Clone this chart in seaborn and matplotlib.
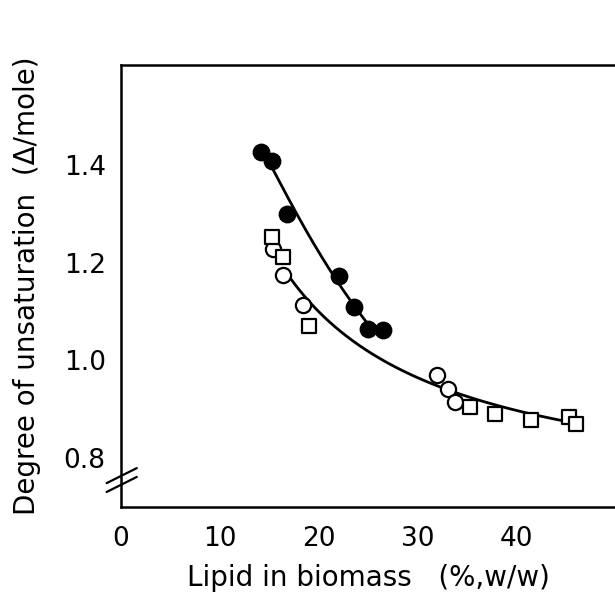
import numpy as np
import pandas as pd
import matplotlib
matplotlib.use("Agg")
import matplotlib.pyplot as plt
import seaborn as sns

# ---- data ----
filled_x = [14.15, 15.27, 16.79, 22.09, 23.61, 25.03, 26.5]
filled_y = [1.427, 1.409, 1.300, 1.172, 1.109, 1.064, 1.062]

open_circle_x = [15.43, 16.38, 18.47, 31.99, 33.06, 33.84]
open_circle_y = [1.229, 1.175, 1.113, 0.970, 0.942, 0.915]

square_x = [15.27, 16.44, 19.05, 35.29, 37.89, 41.51, 45.32, 46.07]
square_y = [1.253, 1.211, 1.070, 0.905, 0.890, 0.879, 0.884, 0.869]

# fitted curves as traced on the reference
upper_curve_x = [15.43, 16.44, 17.46, 18.81, 20.16, 21.51, 22.87, 24.21, 25.56]
upper_curve_y = [1.393, 1.349, 1.308, 1.260, 1.219, 1.178, 1.137, 1.096, 1.055]

lower_curve_x = [17.12, 18.47, 20.16, 21.85, 23.88, 26.24, 28.60, 31.31,
                 33.33, 35.69, 38.07, 40.76, 43.13, 45.49]
lower_curve_y = [1.168, 1.134, 1.096, 1.065, 1.038, 1.007, 0.983, 0.953,
                 0.932, 0.915, 0.905, 0.891, 0.886, 0.881]

x_ticks = [0, 10, 20, 30, 40]
y_ticks = [0.8, 1.0, 1.2, 1.4]
y_tick_labels = ["0.8", "1.0", "1.2", "1.4"]

x_label = "Lipid in biomass   (%,w/w)"
y_label = "Degree of unsaturation  (Δ/mole)"


def smooth_curve(xs, ys, n=200):
    """Smooth the traced curve with a least-squares fit in 1/x."""
    xs = np.asarray(xs, float)
    coef = np.polyfit(1.0 / xs, np.asarray(ys, float), 2)
    xd = np.linspace(xs.min(), xs.max(), n)
    return pd.DataFrame({"x": xd, "y": np.polyval(coef, 1.0 / xd)})


up_df = smooth_curve(upper_curve_x, upper_curve_y)
lo_df = smooth_curve(lower_curve_x, lower_curve_y)

sns.set_theme(style="white")
plt.rcParams["font.family"] = ["DejaVu Sans"]

fig = plt.figure(figsize=(6.15, 5.95), dpi=100)
ax = fig.add_axes([0.1967, 0.1479, 0.8033, 0.7429])

sns.lineplot(data=up_df, x="x", y="y", ax=ax, color="black", lw=2.0, sort=False)
sns.lineplot(data=lo_df, x="x", y="y", ax=ax, color="black", lw=2.0, sort=False)

sns.scatterplot(x=filled_x, y=filled_y, ax=ax, marker="o", s=140,
                color="black", edgecolor="black", linewidth=1, zorder=3)
sns.scatterplot(x=open_circle_x, y=open_circle_y, ax=ax, marker="o", s=120,
                facecolor="white", edgecolor="black", linewidth=1.6, zorder=3)
sns.scatterplot(x=square_x, y=square_y, ax=ax, marker="s", s=95,
                facecolor="white", edgecolor="black", linewidth=1.6, zorder=3)

ax.set_xlim(0, 50)
ax.set_ylim(0.70, 1.605)
ax.set_xticks(x_ticks)
ax.set_xticklabels([str(t) for t in x_ticks])
ax.set_yticks(y_ticks)
ax.set_yticklabels(y_tick_labels)
ax.tick_params(axis="both", direction="in", length=9, width=1.6,
               labelsize=19, color="black", labelcolor="black")
ax.tick_params(axis="x", pad=14)
ax.tick_params(axis="y", pad=11)

for side in ["left", "bottom", "top"]:
    ax.spines[side].set_linewidth(1.8)
    ax.spines[side].set_color("black")
ax.spines["right"].set_visible(False)

ax.set_xlabel(x_label, fontsize=20, labelpad=8, color="black")
ax.set_ylabel(y_label, fontsize=20, labelpad=16, color="black")

# axis break marks on the y-axis
for dy in (0.0, -0.02):
    ax.plot([-0.029, 0.032], [0.054 + dy, 0.088 + dy], transform=ax.transAxes,
            color="black", lw=1.6, clip_on=False)

fig.savefig("out.png", dpi=100, facecolor="white")
